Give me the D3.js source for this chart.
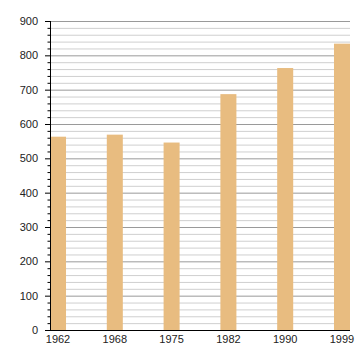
<!DOCTYPE html>
<html><head><meta charset="utf-8">
<script src="https://cdn.jsdelivr.net/npm/d3@7"></script>
<style>body{margin:0;background:#fff}svg{display:block}text{font-family:"Liberation Sans",Arial,sans-serif}</style>
</head><body><svg id="c" width="360" height="360"></svg>
<script>
const years = ["1962","1968","1975","1982","1990","1999"];
const values = [563, 569, 546, 687, 763, 834];
const yTicks = [0,100,200,300,400,500,600,700,800,900];

const svg = d3.select("#c");
const mLeft = 50, mRight = 350, mTop = 21, mBottom = 330;
const x = d3.scaleBand().domain(years).range([mLeft, mRight]).paddingInner(0.718).paddingOuter(0);
const y = d3.scaleLinear().domain([0, 900]).range([mBottom, mTop]);

const minor = d3.range(0, 901, 20).filter(v => v % 100 !== 0);
svg.append("g").selectAll("line").data(minor).join("line")
  .attr("x1", mLeft).attr("x2", mRight).attr("y1", d => y(d) + 0.5).attr("y2", d => y(d) + 0.5)
  .attr("stroke", "#cfcfcf").attr("stroke-width", 1);
svg.append("g").selectAll("line").data(yTicks.filter(v => v > 0)).join("line")
  .attr("x1", mLeft).attr("x2", mRight).attr("y1", d => y(d) + 0.5).attr("y2", d => y(d) + 0.5)
  .attr("stroke", "#9a9a9a").attr("stroke-width", 1);

svg.append("g").selectAll("rect").data(years).join("rect")
  .attr("x", d => x(d)).attr("width", x.bandwidth())
  .attr("y", (d, i) => y(values[i])).attr("height", (d, i) => mBottom - y(values[i]))
  .attr("fill", "#e8bc80");

// y axis
const ya = svg.append("g");
ya.append("line").attr("x1", mLeft + 0.5).attr("x2", mLeft + 0.5).attr("y1", mTop).attr("y2", mBottom).attr("stroke", "#000");
ya.selectAll("line.mi").data(minor).join("line").attr("class", "mi")
  .attr("x1", mLeft - 2.5).attr("x2", mLeft).attr("y1", d => y(d) + 0.5).attr("y2", d => y(d) + 0.5).attr("stroke", "#000");
ya.selectAll("line.ma").data(yTicks).join("line").attr("class", "ma")
  .attr("x1", mLeft - 5).attr("x2", mLeft).attr("y1", d => y(d) + 0.5).attr("y2", d => y(d) + 0.5).attr("stroke", "#000");
ya.selectAll("text").data(yTicks).join("text")
  .attr("x", 38).attr("y", d => y(d)).attr("dy", "0.35em").attr("text-anchor", "end")
  .attr("font-size", 11).attr("fill", "#222").text(d => d);

// x axis
svg.append("line").attr("x1", mLeft - 5).attr("x2", mRight).attr("y1", mBottom + 0.5).attr("y2", mBottom + 0.5).attr("stroke", "#000");
svg.append("g").selectAll("text").data(years).join("text")
  .attr("x", d => x(d) + x.bandwidth() / 2).attr("y", mBottom + 13).attr("text-anchor", "middle")
  .attr("font-size", 11).attr("fill", "#222").text(d => d);
</script></body></html>
